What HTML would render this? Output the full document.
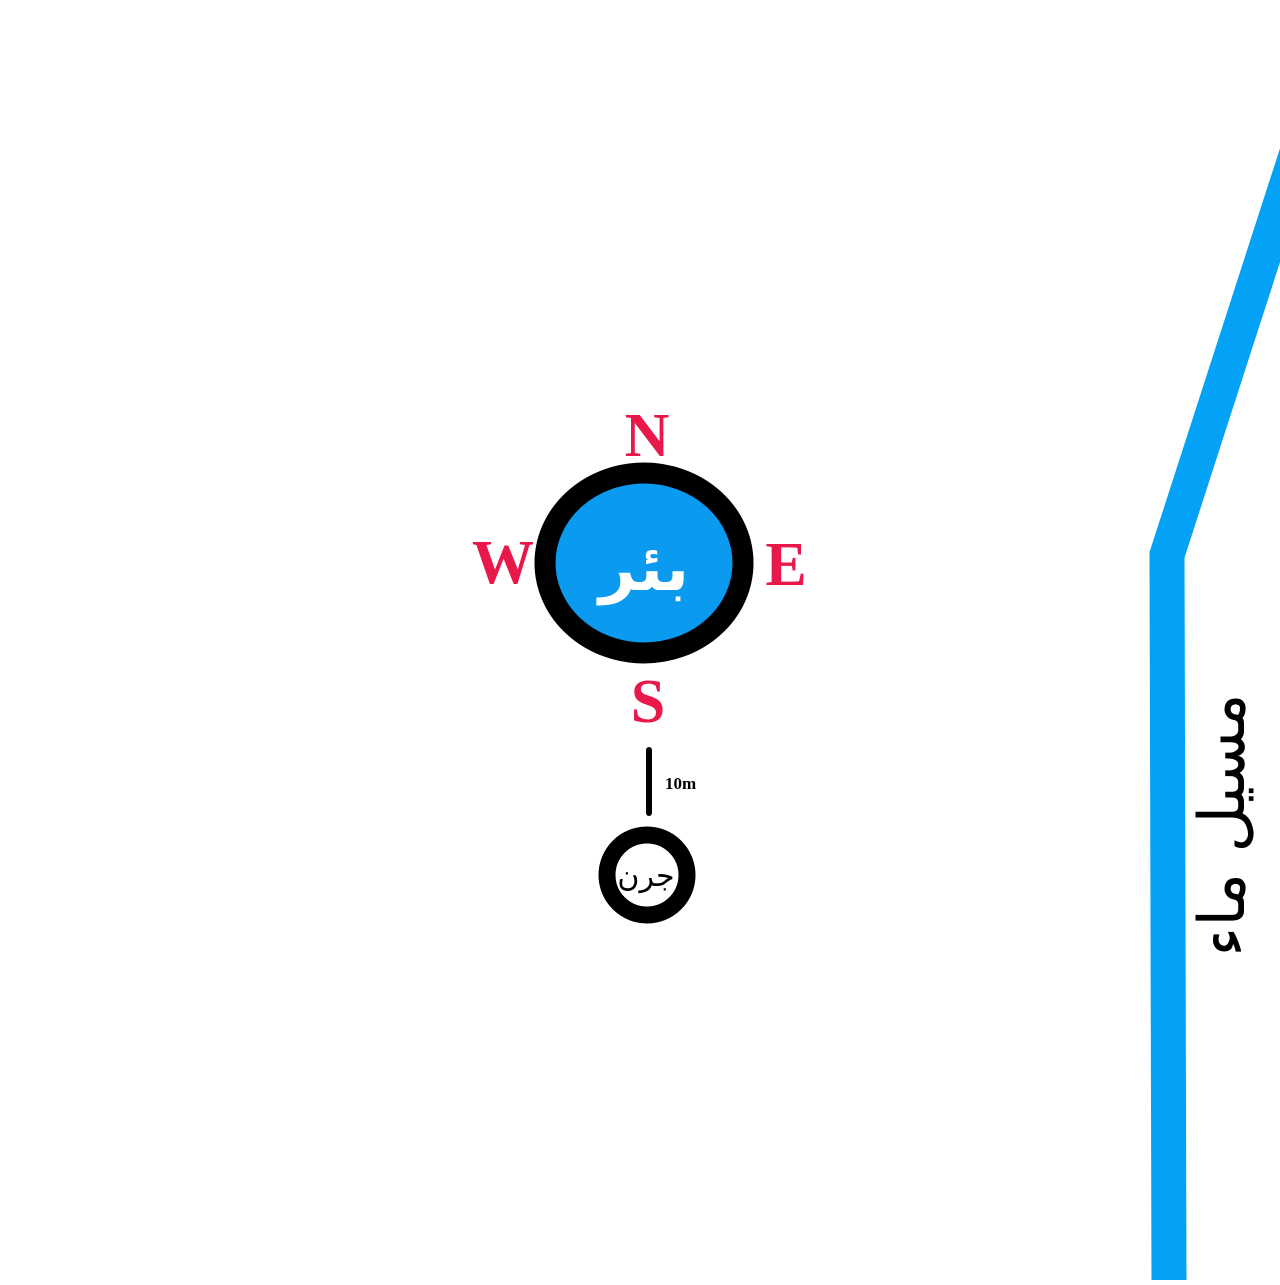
<!DOCTYPE html>
<html><head><meta charset="utf-8"><style>
html,body{margin:0;padding:0;background:#fff;}
</style></head><body>
<svg width="1280" height="1280" viewBox="0 0 1280 1280" xmlns="http://www.w3.org/2000/svg">
<rect width="1280" height="1280" fill="#fff"/>
<polyline points="1314,100 1167,555 1169,1290" fill="none" stroke="#03a2f6" stroke-width="35" stroke-linejoin="miter"/>
<ellipse cx="644" cy="563" rx="99" ry="90" fill="#0a9af0" stroke="#000" stroke-width="21"/>
<text x="644" y="590" text-anchor="middle" font-family="'DejaVu Sans','Noto Sans CJK SC',sans-serif" font-weight="bold" font-size="64" fill="#fff">بئر</text>
<g font-family="'Liberation Serif',serif" font-weight="bold" fill="#e8194a" text-anchor="middle" font-size="62">
<text x="647" y="456">N</text>
<text x="503" y="583">W</text>
<text x="786" y="585">E</text>
<text x="648" y="722">S</text>
</g>
<line x1="649" y1="750" x2="649" y2="813" stroke="#000" stroke-width="6" stroke-linecap="round"/>
<text x="665" y="789" font-family="'Liberation Serif',serif" font-size="17" font-weight="bold" fill="#000">10m</text>
<circle cx="647" cy="875" r="40" fill="#fff" stroke="#000" stroke-width="17"/>
<text x="646" y="886" text-anchor="middle" font-family="'DejaVu Sans',sans-serif" font-size="30" fill="#000">جرن</text>
<text transform="translate(1222,825) rotate(-90)" x="0" y="22" text-anchor="middle" font-family="'DejaVu Sans',sans-serif" font-size="64" fill="#000">مسيل ماء</text>
</svg>
</body></html>
